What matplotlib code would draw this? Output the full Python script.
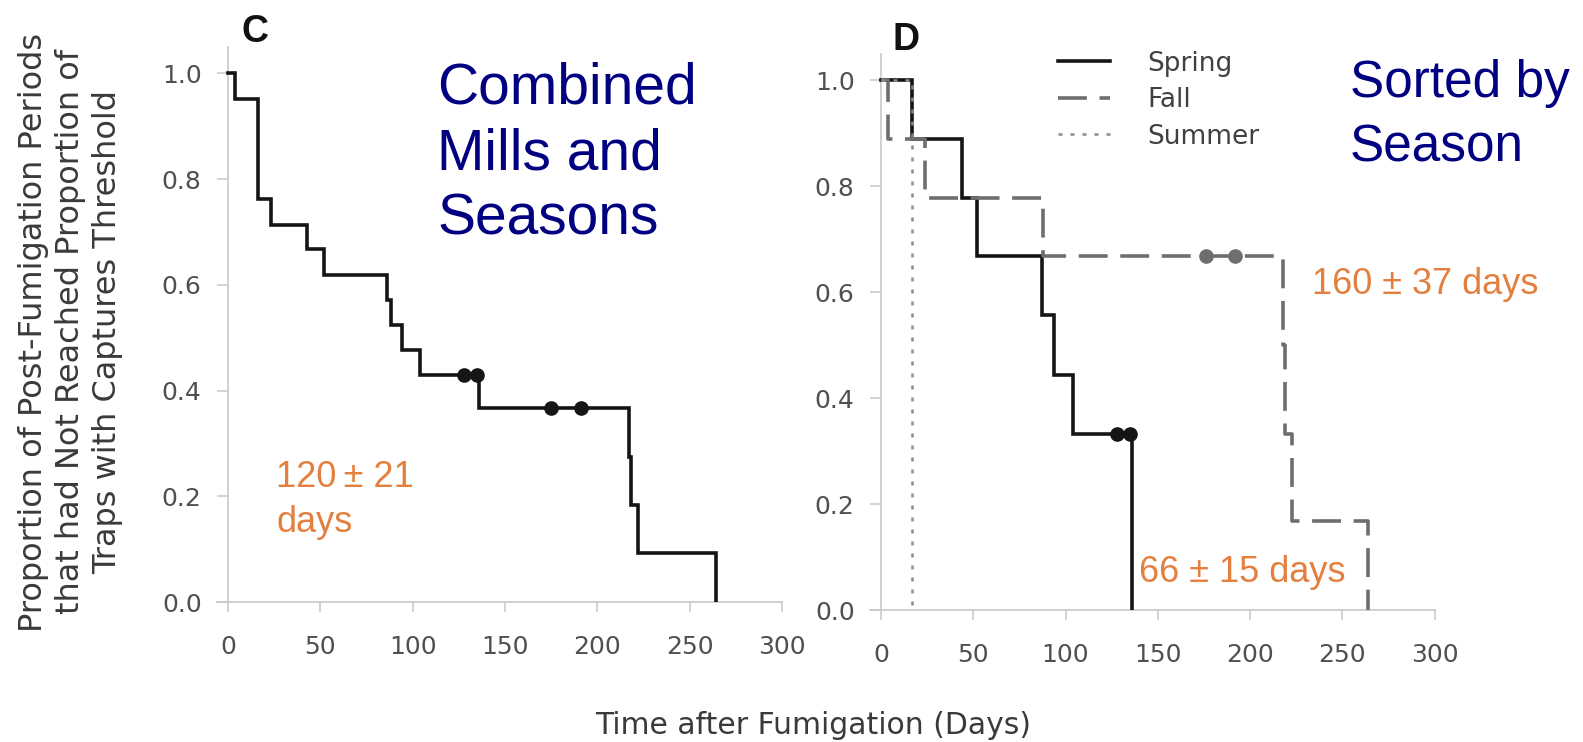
import matplotlib
matplotlib.use("Agg")
import matplotlib.pyplot as plt
from matplotlib.lines import Line2D

# ---------------- data ----------------
comb_times = [0, 4, 16, 23, 43, 52, 86, 88, 94, 104, 136, 217, 218, 222, 264]
comb_surv = [1.0, 0.952, 0.762, 0.714, 0.667, 0.619, 0.571, 0.524, 0.476, 0.429,
             0.367, 0.275, 0.184, 0.092, 0.0]
comb_cens_t = [128, 135, 175, 191]
comb_cens_s = [0.429, 0.429, 0.367, 0.367]

spring_times = [0, 17, 44, 52, 87, 94, 104, 136]
spring_surv = [1.0, 0.889, 0.778, 0.667, 0.556, 0.444, 0.333, 0.0]
spring_cens_t = [128, 135]
spring_cens_s = [0.333, 0.333]

fall_times = [0, 4, 24, 88, 218, 219, 223, 264]
fall_surv = [1.0, 0.889, 0.778, 0.667, 0.5, 0.333, 0.167, 0.0]
fall_cens_t = [176, 192]
fall_cens_s = [0.667, 0.667]

summer_times = [0, 17]
summer_surv = [1.0, 0.0]

season_labels = ["Spring", "Fall", "Summer"]
x_ticks = [0, 50, 100, 150, 200, 250, 300]
y_ticks = [0.0, 0.2, 0.4, 0.6, 0.8, 1.0]
y_ticklabels = ["0.0", "0.2", "0.4", "0.6", "0.8", "1.0"]

# ---------------- styling ----------------
W, H, DPI = 1583, 742, 100
fig = plt.figure(figsize=(W / DPI, H / DPI), dpi=DPI)

AX_GRAY = "#c8c8c8"
TICK_TXT = "#505050"
NAVY = "#000080"
ORANGE = "#E3803F"
BLACK = "#151515"
FALL_C = "#6e6e6e"
SUMMER_C = "#8c8c8c"


def px_axes(x0, x1, y0, y1):
    return [x0 / W, (H - y0) / H, (x1 - x0) / W, (y0 - y1) / H]


def fy(px):
    return 1 - px / H


def style_axes(ax):
    ax.set_xlim(-6, 300)
    ax.set_ylim(0, 1.05)
    ax.spines["left"].set_position(("data", 0))
    for s in ["top", "right"]:
        ax.spines[s].set_visible(False)
    for s in ["left", "bottom"]:
        ax.spines[s].set_color(AX_GRAY)
        ax.spines[s].set_linewidth(1.2)
    ax.set_xticks(x_ticks)
    ax.set_xticklabels([str(t) for t in x_ticks])
    ax.set_yticks(y_ticks)
    ax.set_yticklabels(y_ticklabels)
    ax.tick_params(axis="x", direction="out", length=7.5, width=1.1,
                   color=AX_GRAY, labelcolor=TICK_TXT, labelsize=18, pad=16)
    ax.tick_params(axis="y", direction="out", length=8, width=1.1,
                   color=AX_GRAY, labelcolor=TICK_TXT, labelsize=18, pad=11)
    for lab in ax.get_xticklabels() + ax.get_yticklabels():
        lab.set_family("DejaVu Sans")
    ax.patch.set_alpha(0)


axC = fig.add_axes(px_axes(217, 782, 602, 47))
axD = fig.add_axes(px_axes(870, 1434.5, 610, 53.5))
style_axes(axC)
style_axes(axD)

LW = 2.6
MS = 9.5
DASH = (0, (8, 3.5))
DOT = (0, (1.6, 3.2))
# ---- panel C ----
axC.step(comb_times, comb_surv, where="post", color=BLACK, lw=LW,
         solid_joinstyle="miter", zorder=3)
axC.plot(comb_cens_t, comb_cens_s, "o", color=BLACK, ms=MS, zorder=4)

# ---- panel D ----
axD.step(spring_times, spring_surv, where="post", color=BLACK, lw=LW,
         solid_joinstyle="miter", zorder=3)
axD.plot(spring_cens_t, spring_cens_s, "o", color=BLACK, ms=MS, zorder=4)
axD.step(fall_times, fall_surv, where="post", color=FALL_C, lw=LW,
         linestyle=DASH, zorder=3.5)
axD.plot(fall_cens_t, fall_cens_s, "o", color=FALL_C, ms=MS, zorder=4)
axD.step(summer_times, summer_surv, where="post", color=SUMMER_C, lw=1.8,
         linestyle=DOT, zorder=3.6)

handles = [
    Line2D([], [], color=BLACK, lw=LW),
    Line2D([], [], color=FALL_C, lw=LW, linestyle=DASH),
    Line2D([], [], color=SUMMER_C, lw=1.8, linestyle=DOT),
]
leg = fig.legend(handles, season_labels, loc="upper left",
                 bbox_to_anchor=(1047 / W, fy(40)), frameon=False,
                 borderaxespad=0, prop={"family": "DejaVu Sans", "size": 19},
                 handlelength=2.0, handletextpad=1.4, labelspacing=0.4)
for t in leg.get_texts():
    t.set_color("#404040")

# ---- panel letters ----
fig.text(255 / W, fy(42), "C", ha="center", va="baseline", fontsize=27,
         fontweight="bold", family="Liberation Sans", color="#111111")
fig.text(906 / W, fy(50), "D", ha="center", va="baseline", fontsize=27,
         fontweight="bold", family="Liberation Sans", color="#111111")

# ---- big navy annotations (one text per line, positioned by baseline) ----
for line, base in zip(["Combined", "Mills and", "Seasons"], [103, 169, 234]):
    fig.text(437 / W, fy(base), line, ha="left", va="baseline",
             fontsize=41, family="Liberation Sans", color=NAVY)
for line, base in zip(["Sorted by", "Season"], [97, 161]):
    fig.text(1350 / W, fy(base), line, ha="left", va="baseline",
             fontsize=37, family="Liberation Sans", color=NAVY)

# ---- orange annotations ----
fig.text(276 / W, fy(477), "120\u2009\u00b1 21", ha="left", va="center",
         fontsize=26, family="Liberation Sans", color=ORANGE)
fig.text(276 / W, fy(523), "days", ha="left", va="center",
         fontsize=26, family="Liberation Sans", color=ORANGE)
fig.text(1312 / W, fy(285), "160 \u00b1 37 days", ha="left", va="center",
         fontsize=26, family="Liberation Sans", color=ORANGE)
fig.text(1139 / W, fy(572), "66 \u00b1 15 days", ha="left", va="center",
         fontsize=26, family="Liberation Sans", color=ORANGE)

# ---- axis labels ----
fig.text(71 / W, fy(332),
         "Proportion of Post-Fumigation Periods\nthat had Not Reached Proportion of\nTraps with Captures Threshold",
         rotation=90, ha="center", va="center", multialignment="center",
         fontsize=23, family="DejaVu Sans", color="#3a3a3a", linespacing=1.25)
fig.text(813 / W, fy(725), "Time after Fumigation (Days)", ha="center",
         va="center", fontsize=21.5, family="DejaVu Sans", color="#3a3a3a")

fig.savefig("out.png", dpi=DPI)
